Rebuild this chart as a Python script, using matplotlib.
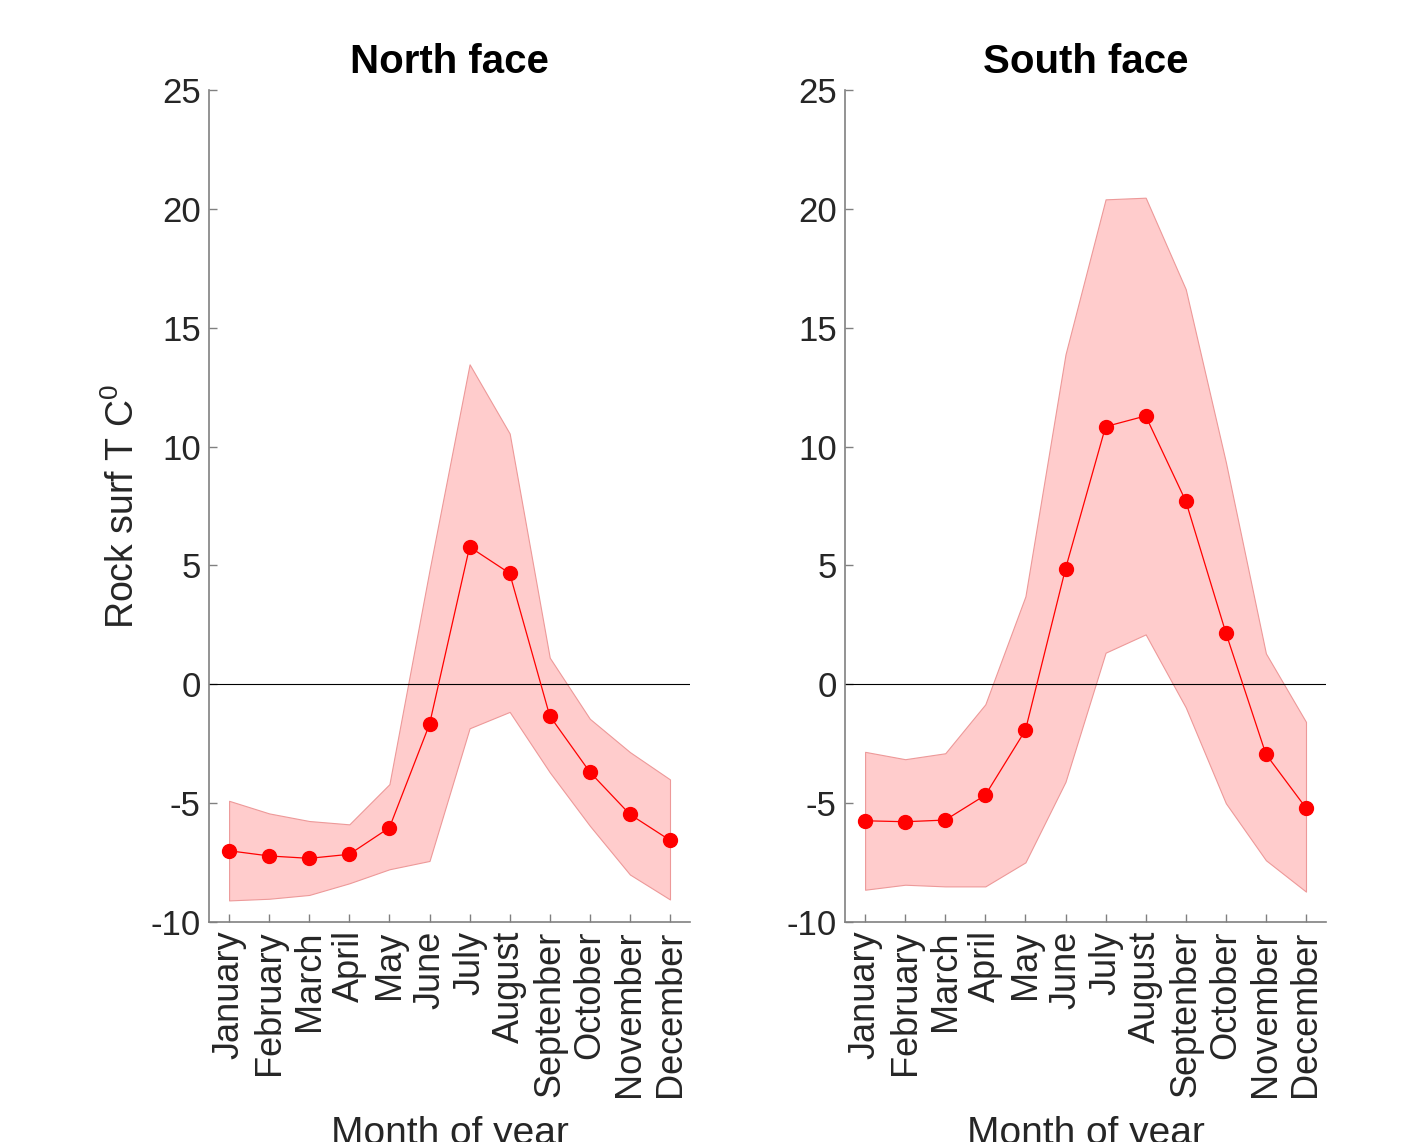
import matplotlib.pyplot as plt
import numpy as np

plt.rcParams['font.family'] = ['Liberation Sans', 'DejaVu Sans']
plt.rcParams['mathtext.fontset'] = 'custom'
plt.rcParams['mathtext.rm'] = 'Liberation Sans'
plt.rcParams['axes.unicode_minus'] = False

months = ['January', 'February', 'March', 'April', 'May', 'June', 'July',
          'August', 'Septenber', 'October', 'November', 'December']

# North face
north_mean = [-7.0, -7.22, -7.32, -7.15, -6.03, -1.68, 5.78, 4.67, -1.33, -3.69, -5.47, -6.56]
north_upper = [-4.9, -5.43, -5.75, -5.89, -4.2, 4.8, 13.46, 10.55, 1.12, -1.45, -2.85, -4.0]
north_lower = [-9.09, -9.02, -8.86, -8.37, -7.78, -7.43, -1.85, -1.16, -3.7, -5.95, -8.0, -9.05]

# South face
south_mean = [-5.74, -5.78, -5.71, -4.66, -1.93, 4.86, 10.84, 11.29, 7.71, 2.17, -2.94, -5.2]
south_upper = [-2.84, -3.15, -2.9, -0.84, 3.7, 13.88, 20.4, 20.47, 16.62, 9.35, 1.3, -1.58]
south_lower = [-8.64, -8.43, -8.5, -8.5, -7.49, -4.1, 1.33, 2.1, -0.97, -5.0, -7.4, -8.72]

faces = [('North face', north_mean, north_upper, north_lower),
         ('South face', south_mean, south_upper, south_lower)]

fig = plt.figure(figsize=(14.26, 11.42), dpi=100)
x = np.arange(1, 13)
lefts = [0.1466, 0.5926]

for i, (title, mean, upper, lower) in enumerate(faces):
    ax = fig.add_axes([lefts[i], 0.1926, 0.3373, 0.7286])
    ax.fill_between(x, lower, upper, facecolor=(1, 0.8, 0.8),
                    edgecolor=(0.93, 0.6, 0.6), linewidth=0.8, zorder=1)
    ax.axhline(0, color='black', linewidth=0.8, zorder=2)
    ax.plot(x, mean, color='red', linewidth=0.9, marker='o', markersize=10,
            markerfacecolor='red', markeredgecolor='red', zorder=3)
    ax.set_xlim(0.5, 12.5)
    ax.set_ylim(-10, 25)
    ax.set_yticks(np.arange(-10, 26, 5))
    ax.set_xticks(x)
    ax.set_xticklabels(months, rotation=90)
    ax.spines['top'].set_visible(False)
    ax.spines['right'].set_visible(False)
    for s in ['left', 'bottom']:
        ax.spines[s].set_color('#808080')
        ax.spines[s].set_linewidth(1.2)
    ax.tick_params(direction='in', length=6, width=1, color='#808080',
                   labelcolor='#262626', labelsize=25, pad=6)
    ax.tick_params(axis='x', labelsize=26)
    ax.set_title(title, fontsize=29, fontweight='bold', pad=12)
    ax.set_xlabel('Month of year', fontsize=28, color='#262626', labelpad=14)
    if i == 0:
        ax.set_ylabel(r'Rock surf T C$^\mathregular{0}$', fontsize=27,
                      color='#262626', labelpad=6)

fig.savefig('out.png', dpi=100)
